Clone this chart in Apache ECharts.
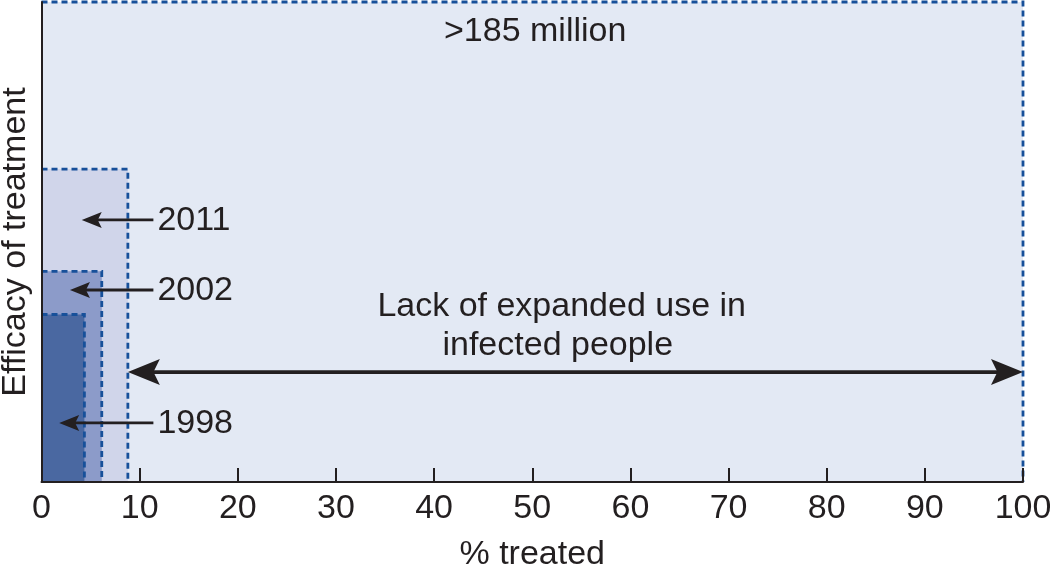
<!DOCTYPE html>
<html>
<head>
<meta charset="utf-8">
<script src="https://cdn.jsdelivr.net/npm/echarts@6/dist/echarts.min.js"></script>
<style>
  html, body { margin: 0; padding: 0; background: #fff; }
  #chart { width: 1050px; height: 567px; }
</style>
</head>
<body>
<div id="chart"></div>
<script>
// 数据：各年份覆盖范围（% treated）与疗效高度
var boxNames = ['>185 million', '2011', '2002', '1998'];
var boxWidth = [100, 8.8, 6.14, 4.37];
var boxHeight = [100, 65.2, 43.9, 34.9];

// 年份箭头
var arrowNames = ['2011', '2002', '1998'];
var arrowFrom = [11.4, 11.4, 11.4];
var arrowTo = [4.1, 2.9, 1.8];
var arrowY = [54.6, 40.0, 12.3];

// 双向箭头（未扩大使用的人群）
var spanFrom = 8.8;
var spanTo = 100;
var spanY = 22.9;
var spanText = ['Lack of expanded use in', 'infected people'];
var spanTextX = [53.0, 52.6];
var spanTextY = [36.6, 28.4];
var topTextX = 50.3;
var topTextY = 93.8;

var xTicks = [0, 10, 20, 30, 40, 50, 60, 70, 80, 90, 100];

var FONT = "'Liberation Sans', Arial, Helvetica, sans-serif";
var FS = 34;
var fills = ['#e3e9f4', '#d0d5ea', '#8c9bc9', '#4a68a1'];
var dashColor = '#17509a';

var myChart = echarts.init(document.getElementById('chart'));

function arrowHead(tip, dir, len, half) { //dir: -1 朝左, 1 朝右
    return [
        [tip[0], tip[1]],
        [tip[0] - dir * len, tip[1] - half],
        [tip[0] - dir * len * 0.8, tip[1]],
        [tip[0] - dir * len, tip[1] + half]
    ];
}

var boxData = boxNames.map(function(n, i) { return [boxWidth[i], boxHeight[i], i]; });
var arrowData = arrowNames.map(function(n, i) { return [arrowFrom[i], arrowTo[i], arrowY[i], i]; });

var option = {
    animation: false,
    grid: { left: 41.5, right: 27, top: 2, bottom: 85, outerBoundsMode: 'none', containLabel: false },
    xAxis: {
        type: 'value', min: 0, max: 100, interval: 10, z: 10,
        name: '% treated', nameLocation: 'middle', nameGap: 56,
        nameTextStyle: { fontFamily: FONT, fontSize: FS, color: '#231f20' },
        axisLine: { lineStyle: { color: '#231f20', width: 2 } },
        axisTick: { inside: true, length: 14, lineStyle: { color: '#231f20', width: 2 } },
        axisLabel: { fontFamily: FONT, fontSize: FS, color: '#231f20', margin: 10,
            formatter: function(v) { return xTicks.indexOf(v) > -1 ? String(v) : ''; } },
        splitLine: { show: false }
    },
    yAxis: {
        type: 'value', min: 0, max: 100, z: 10,
        name: 'Efficacy of treatment', nameLocation: 'middle', nameRotate: 90, nameGap: 9,
        nameTextStyle: { fontFamily: FONT, fontSize: FS, color: '#231f20' },
        axisLine: { show: true, lineStyle: { color: '#231f20', width: 2 } },
        axisTick: { show: false },
        axisLabel: { show: false },
        splitLine: { show: false }
    },
    series: [{
        // 各年份矩形
        type: 'custom',
        z: 2,
        data: boxData,
        renderItem: function(params, api) {
            var i = api.value(2);
            var p0 = api.coord([0, 0]);
            var p1 = api.coord([api.value(0), api.value(1)]);
            return {
                type: 'group',
                children: [{
                    type: 'rect',
                    shape: { x: p0[0], y: p1[1], width: p1[0] - p0[0], height: p0[1] - p1[1] },
                    style: { fill: fills[i] }
                }, {
                    type: 'polyline',
                    shape: { points: [[p0[0], p1[1]], [p1[0], p1[1]], [p1[0], p0[1]]] },
                    style: { stroke: dashColor, lineWidth: 2.8, lineDash: [6, 4], fill: null }
                }]
            };
        }
    }, {
        // 年份箭头与标签
        type: 'custom',
        z: 5,
        data: arrowData,
        renderItem: function(params, api) {
            var i = api.value(3);
            var a = api.coord([api.value(0), api.value(2)]);
            var b = api.coord([api.value(1), api.value(2)]);
            return {
                type: 'group',
                children: [{
                    type: 'line',
                    shape: { x1: a[0], y1: a[1], x2: b[0] + 12, y2: b[1] },
                    style: { stroke: '#231f20', lineWidth: 2.8 }
                }, {
                    type: 'polygon',
                    shape: { points: arrowHead(b, -1, 20, 8) },
                    style: { fill: '#231f20' }
                }, {
                    type: 'text',
                    style: { text: arrowNames[i], x: a[0] + 4, y: a[1] + 1, font: FS + 'px ' + FONT,
                        fill: '#231f20', align: 'left', verticalAlign: 'middle' }
                }]
            };
        }
    }, {
        // 双向箭头与说明文字
        type: 'custom',
        z: 5,
        data: [[spanFrom, spanTo, spanY]],
        renderItem: function(params, api) {
            var a = api.coord([api.value(0), api.value(2)]);
            var b = api.coord([api.value(1), api.value(2)]);
            var kids = [{
                type: 'line',
                shape: { x1: a[0] + 25, y1: a[1], x2: b[0] - 25, y2: b[1] },
                style: { stroke: '#231f20', lineWidth: 3.8 }
            }, {
                type: 'polygon',
                shape: { points: arrowHead(a, -1, 32, 13) },
                style: { fill: '#231f20' }
            }, {
                type: 'polygon',
                shape: { points: arrowHead(b, 1, 32, 13) },
                style: { fill: '#231f20' }
            }];
            spanText.forEach(function(t, k) {
                var p = api.coord([spanTextX[k], spanTextY[k]]);
                kids.push({
                    type: 'text',
                    style: { text: t, x: p[0], y: p[1], font: FS + 'px ' + FONT, fill: '#231f20',
                        align: 'center', verticalAlign: 'middle' }
                });
            });
            var q = api.coord([topTextX, topTextY]);
            kids.push({
                type: 'text',
                style: { text: boxNames[0], x: q[0], y: q[1], font: FS + 'px ' + FONT, fill: '#231f20',
                    align: 'center', verticalAlign: 'middle' }
            });
            return { type: 'group', children: kids };
        }
    }]
};

myChart.setOption(option);
window.addEventListener('resize', function() { myChart.resize(); });
</script>
</body>
</html>
